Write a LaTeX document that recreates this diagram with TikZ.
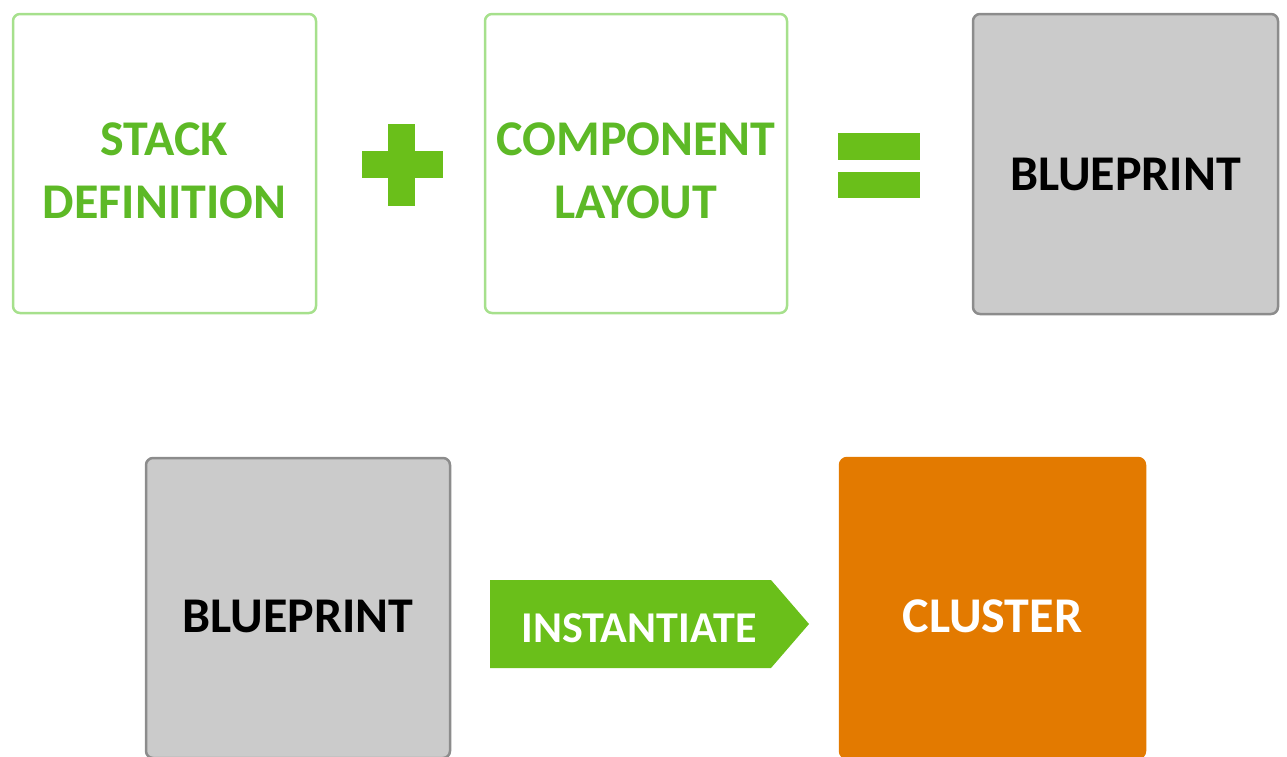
\documentclass[tikz,border=0pt]{standalone}
\usepackage{fontspec}
\setmainfont{Carlito}
\definecolor{txtgreen}{HTML}{5DB926}
\definecolor{boxgreen}{HTML}{A6E08C}
\definecolor{solidgreen}{HTML}{6ABF1A}
\definecolor{bpfill}{HTML}{CBCBCB}
\definecolor{bpline}{HTML}{8C8C8C}
\definecolor{clorange}{HTML}{E37A00}
\tikzset{
  sq/.style={rounded corners=7pt, line width=2.5pt, inner sep=0pt},
  greenbox/.style={sq, draw=boxgreen, fill=white},
  graybox/.style={sq, draw=bpline, fill=bpfill},
  orangebox/.style={sq, draw=clorange, fill=clorange},
  lbl/.style={inner sep=0pt, anchor=base, align=center, font=\bfseries\fontsize{50}{63}\selectfont},
}
\begin{document}
\begin{tikzpicture}[x=1pt,y=-1pt]
\useasboundingbox (0,0) rectangle (1287,756);
% top row
\node[greenbox, minimum width=303pt, minimum height=299pt] (stack) at (164.5,163.5) {};
\node[lbl, text=txtgreen] (stacktxt) at (164.5,218) {STACK\\DEFINITION};
\node[greenbox, minimum width=302pt, minimum height=299pt] (comp) at (636,163.5) {};
\node[lbl, text=txtgreen] (comptxt) at (636,218) {COMPONENT\\LAYOUT};
\node[graybox, minimum width=305pt, minimum height=300pt] (bp1) at (1125.5,164) {};
\node[lbl, text=black] (bp1txt) at (1125.5,190) {BLUEPRINT};
% plus sign
\fill[solidgreen] (388,124) rectangle (415,206);
\fill[solidgreen] (362,151) rectangle (443,178);
% equals sign
\fill[solidgreen] (838,133) rectangle (920,160);
\fill[solidgreen] (838,172) rectangle (920,198);
% bottom row
\node[graybox, minimum width=304pt, minimum height=300pt] (bp2) at (298,608) {};
\node[lbl, text=black] (bp2txt) at (298,632) {BLUEPRINT};
\node[orangebox, minimum width=305pt, minimum height=300pt] (cluster) at (992.5,608) {};
\node[lbl, text=white] (cltxt) at (992.5,632) {CLUSTER};
\fill[solidgreen] (490,580) -- (771,580) -- (809,624) -- (771,668) -- (490,668) -- cycle;
\node[text=white, font=\bfseries\fontsize{44}{50}\selectfont, inner sep=0pt, anchor=base] (inst) at (639,642) {INSTANTIATE};
\end{tikzpicture}
\end{document}
